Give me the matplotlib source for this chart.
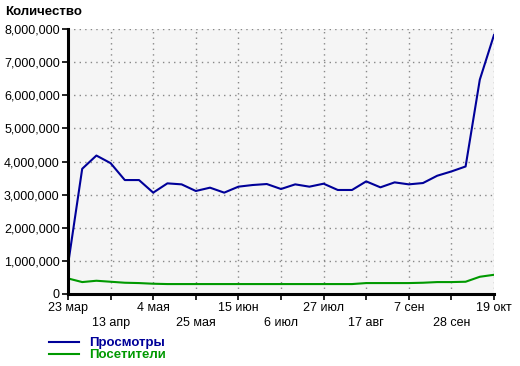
import matplotlib
matplotlib.use('Agg')
import matplotlib.pyplot as plt
import numpy as np

# weekly values, 23 мар .. 19 окт
prosmotry = [0.88, 3.78, 4.18, 3.95, 3.44, 3.44, 3.06, 3.34, 3.31, 3.11,
             3.21, 3.06, 3.24, 3.29, 3.32, 3.17, 3.31, 3.24, 3.33, 3.14,
             3.14, 3.40, 3.22, 3.37, 3.31, 3.35, 3.57, 3.70, 3.85, 6.47, 7.82]
posetiteli = [0.47, 0.36, 0.40, 0.37, 0.34, 0.33, 0.31, 0.30, 0.30, 0.30,
              0.30, 0.30, 0.30, 0.30, 0.30, 0.30, 0.30, 0.30, 0.30, 0.30,
              0.30, 0.33, 0.33, 0.33, 0.33, 0.34, 0.36, 0.36, 0.37, 0.52, 0.58]
tick_labels = ["23 мар", "13 апр", "4 мая", "25 мая", "15 июн", "6 июл",
               "27 июл", "17 авг", "7 сен", "28 сен", "19 окт"]

plt.rcParams['font.family'] = ['Liberation Sans', 'DejaVu Sans']
plt.rcParams['font.size'] = 9

fig = plt.figure(figsize=(5.2, 3.66), dpi=100)
ax = fig.add_axes([68/520, 1 - 294/366, (494-68)/520, (294-29)/366])
ax.set_facecolor('#f5f5f5')

weeks = np.arange(len(prosmotry))
ax.plot(weeks, np.array(prosmotry) * 1e6, color='#000099', lw=1.5, label='Просмотры')
ax.plot(weeks, np.array(posetiteli) * 1e6, color='#009900', lw=1.5, label='Посетители')

ax.set_xlim(0, len(weeks) - 1)
ax.set_ylim(0, 8e6)
ax.set_yticks(np.arange(0, 8e6 + 1, 1e6))
ax.yaxis.set_major_formatter(matplotlib.ticker.FuncFormatter(lambda v, p: f'{v:,.0f}'))

ticks = weeks[::3]
ax.set_xticks(ticks)
ax.set_xticklabels(tick_labels)
for i, t in enumerate(ax.get_xticklabels()):
    if i % 2 == 1:
        t.set_y(-0.055)

ax.grid(True, color='#888888', linestyle=(0, (1, 3)), lw=1)
for s in ['top', 'right']:
    ax.spines[s].set_visible(False)
for s in ['left', 'bottom']:
    ax.spines[s].set_linewidth(2.2)
ax.tick_params(direction='out', length=4, width=1.2, colors='black', pad=2)

fig.text(5/520, 1 - 12/366, 'Количество', fontweight='bold', fontsize=9.5, va='center')

leg = fig.legend(loc='upper left', bbox_to_anchor=(49/520, 1 - 337/366), frameon=False,
                 handlelength=2.4, handletextpad=0.8, labelspacing=0.0,
                 borderaxespad=0, borderpad=0)
for txt, c in zip(leg.get_texts(), ['#000099', '#009900']):
    txt.set_color(c)
    txt.set_fontweight('bold')
    txt.set_fontsize(9.5)

fig.savefig('out.png', dpi=100)
